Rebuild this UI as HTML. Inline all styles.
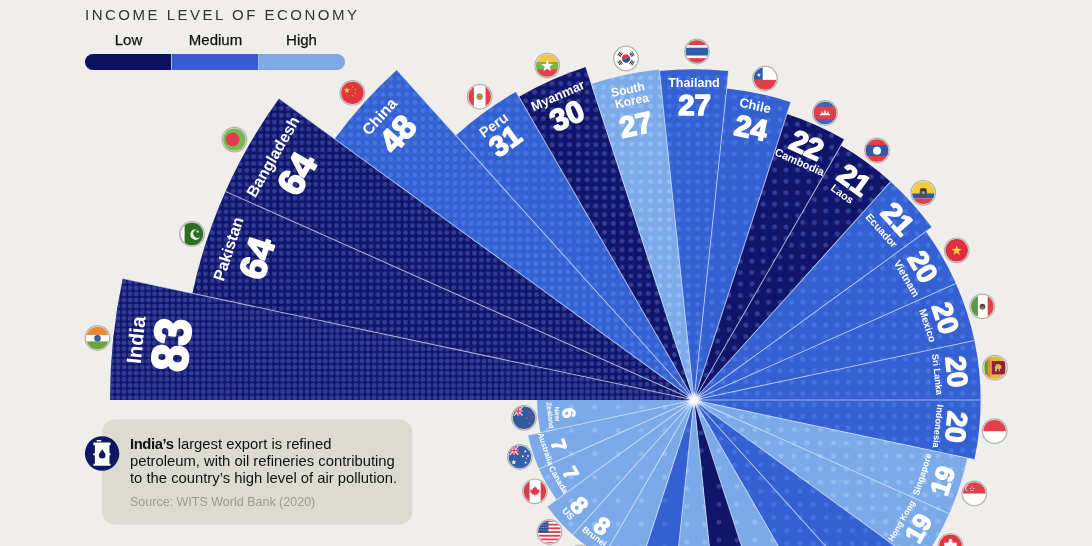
<!DOCTYPE html>
<html lang="en"><head><meta charset="utf-8"><title>Income level of economy</title>
<style>
html,body{margin:0;padding:0}
body{width:1092px;height:546px;overflow:hidden;background:#efeeea;position:relative;font-family:"Liberation Sans",Arial,sans-serif}
.ttl{position:absolute;left:85px;top:6px;font-size:15px;letter-spacing:2.5px;color:#333;white-space:nowrap;line-height:18px}
.lg{position:absolute;top:31px;font-size:15px;color:#111;line-height:18px;width:87px;text-align:center;-webkit-text-stroke:0.25px #111}
.bar{position:absolute;left:85px;top:54px;width:260px;height:16px;border-radius:8px;overflow:hidden;display:flex}
.bar i{display:block;flex:1;height:16px}
.box{position:absolute;left:102px;top:420px;width:309px;height:104px}
.box p{position:absolute;left:28px;top:16px;margin:0;font-size:14.8px;line-height:17px;color:#111;white-space:nowrap;letter-spacing:0}
.box b{letter-spacing:-0.4px}
.box .src{top:74px;color:#9a9a93;font-size:12.5px}
</style></head><body>
<svg width="1092" height="546" viewBox="0 0 1092 546" style="position:absolute;left:0;top:0">
<defs>
<radialGradient id="glow"><stop offset="0" stop-color="#fff" stop-opacity="1"/><stop offset="0.35" stop-color="#fff" stop-opacity="0.9"/><stop offset="1" stop-color="#fff" stop-opacity="0"/></radialGradient>
<clipPath id="fc"><circle r="11.2"/></clipPath>
<clipPath id="wc">
<path d="M694 400L110.02 400A583.98 583.98 0 0 1 122.78 278.58ZM694 400L192.41 293.38A512.8 512.8 0 0 1 225.53 191.43ZM694 400L225.53 191.43A512.8 512.8 0 0 1 279.14 98.58ZM694 400L334.72 138.97A444.1 444.1 0 0 1 396.84 69.97ZM694 400L455.79 135.44A356 356 0 0 1 516 91.69ZM694 400L518.9 96.72A350.2 350.2 0 0 1 585.78 66.94ZM694 400L591.34 84.06A332.2 332.2 0 0 1 659.28 69.62ZM694 400L659.42 71.01A330.8 330.8 0 0 1 728.58 71.01ZM694 400L726.74 88.52A313.2 313.2 0 0 1 790.78 102.13ZM694 400L786.91 114.06A300.66 300.66 0 0 1 844.33 139.62ZM694 400L840.87 145.61A293.74 293.74 0 0 1 890.55 181.71ZM694 400L890.55 181.71A293.74 293.74 0 0 1 931.64 227.34ZM694 400L925.92 231.5A286.66 286.66 0 0 1 955.88 283.4ZM694 400L955.88 283.4A286.66 286.66 0 0 1 974.4 340.4ZM694 400L974.4 340.4A286.66 286.66 0 0 1 980.66 400ZM694 400L980.66 400A286.66 286.66 0 0 1 974.4 459.6ZM694 400L967.3 458.09A279.41 279.41 0 0 1 949.25 513.64ZM694 400L949.25 513.64A279.41 279.41 0 0 1 920.04 564.23ZM694 400L960.98 593.97A330 330 0 0 1 914.81 645.24ZM694 400L914.81 645.24A330 330 0 0 1 859 685.79ZM694 400L859 685.79A330 330 0 0 1 795.98 713.85ZM694 400L795.98 713.85A330 330 0 0 1 728.49 728.19ZM694 400L728.49 728.19A330 330 0 0 1 659.51 728.19ZM694 400L659.51 728.19A330 330 0 0 1 592.02 713.85ZM694 400L592.02 713.85A330 330 0 0 1 529 685.79ZM694 400L603.35 557.01A181.3 181.3 0 0 1 572.69 534.73ZM694 400L572.69 534.73A181.3 181.3 0 0 1 547.32 506.57ZM694 400L556.8 499.68A169.59 169.59 0 0 1 539.07 468.98ZM694 400L539.07 468.98A169.59 169.59 0 0 1 528.11 435.26ZM694 400L540.42 432.64A157.01 157.01 0 0 1 536.99 400Z"/>
</clipPath></defs>
<path d="M694 400L110.02 400A583.98 583.98 0 0 1 122.78 278.58Z" fill="#0f156a"/>
<path d="M694 400L192.41 293.38A512.8 512.8 0 0 1 225.53 191.43Z" fill="#0f156a"/>
<path d="M694 400L225.53 191.43A512.8 512.8 0 0 1 279.14 98.58Z" fill="#0f156a"/>
<path d="M694 400L334.72 138.97A444.1 444.1 0 0 1 396.84 69.97Z" fill="#3560d2"/>
<path d="M694 400L455.79 135.44A356 356 0 0 1 516 91.69Z" fill="#3560d2"/>
<path d="M694 400L518.9 96.72A350.2 350.2 0 0 1 585.78 66.94Z" fill="#0f156a"/>
<path d="M694 400L591.34 84.06A332.2 332.2 0 0 1 659.28 69.62Z" fill="#7caae8"/>
<path d="M694 400L659.42 71.01A330.8 330.8 0 0 1 728.58 71.01Z" fill="#3560d2"/>
<path d="M694 400L726.74 88.52A313.2 313.2 0 0 1 790.78 102.13Z" fill="#3560d2"/>
<path d="M694 400L786.91 114.06A300.66 300.66 0 0 1 844.33 139.62Z" fill="#0f156a"/>
<path d="M694 400L840.87 145.61A293.74 293.74 0 0 1 890.55 181.71Z" fill="#0f156a"/>
<path d="M694 400L890.55 181.71A293.74 293.74 0 0 1 931.64 227.34Z" fill="#3560d2"/>
<path d="M694 400L925.92 231.5A286.66 286.66 0 0 1 955.88 283.4Z" fill="#3560d2"/>
<path d="M694 400L955.88 283.4A286.66 286.66 0 0 1 974.4 340.4Z" fill="#3560d2"/>
<path d="M694 400L974.4 340.4A286.66 286.66 0 0 1 980.66 400Z" fill="#3560d2"/>
<path d="M694 400L980.66 400A286.66 286.66 0 0 1 974.4 459.6Z" fill="#3560d2"/>
<path d="M694 400L967.3 458.09A279.41 279.41 0 0 1 949.25 513.64Z" fill="#7caae8"/>
<path d="M694 400L949.25 513.64A279.41 279.41 0 0 1 920.04 564.23Z" fill="#7caae8"/>
<path d="M694 400L960.98 593.97A330 330 0 0 1 914.81 645.24Z" fill="#3560d2"/>
<path d="M694 400L914.81 645.24A330 330 0 0 1 859 685.79Z" fill="#3560d2"/>
<path d="M694 400L859 685.79A330 330 0 0 1 795.98 713.85Z" fill="#7caae8"/>
<path d="M694 400L795.98 713.85A330 330 0 0 1 728.49 728.19Z" fill="#0f156a"/>
<path d="M694 400L728.49 728.19A330 330 0 0 1 659.51 728.19Z" fill="#7caae8"/>
<path d="M694 400L659.51 728.19A330 330 0 0 1 592.02 713.85Z" fill="#3560d2"/>
<path d="M694 400L592.02 713.85A330 330 0 0 1 529 685.79Z" fill="#7caae8"/>
<path d="M694 400L603.35 557.01A181.3 181.3 0 0 1 572.69 534.73Z" fill="#7caae8"/>
<path d="M694 400L572.69 534.73A181.3 181.3 0 0 1 547.32 506.57Z" fill="#7caae8"/>
<path d="M694 400L556.8 499.68A169.59 169.59 0 0 1 539.07 468.98Z" fill="#7caae8"/>
<path d="M694 400L539.07 468.98A169.59 169.59 0 0 1 528.11 435.26Z" fill="#7caae8"/>
<path d="M694 400L540.42 432.64A157.01 157.01 0 0 1 536.99 400Z" fill="#7caae8"/>
<path d="M694 400L110.02 400A583.98 583.98 0 0 1 122.78 278.58Z" fill="url(#p0)"/>
<path d="M694 400L192.41 293.38A512.8 512.8 0 0 1 225.53 191.43Z" fill="url(#p1)"/>
<path d="M694 400L225.53 191.43A512.8 512.8 0 0 1 279.14 98.58Z" fill="url(#p2)"/>
<path d="M694 400L334.72 138.97A444.1 444.1 0 0 1 396.84 69.97Z" fill="url(#p3)"/>
<path d="M694 400L455.79 135.44A356 356 0 0 1 516 91.69Z" fill="url(#p4)"/>
<path d="M694 400L518.9 96.72A350.2 350.2 0 0 1 585.78 66.94Z" fill="url(#p5)"/>
<path d="M694 400L591.34 84.06A332.2 332.2 0 0 1 659.28 69.62Z" fill="url(#p6)"/>
<path d="M694 400L659.42 71.01A330.8 330.8 0 0 1 728.58 71.01Z" fill="url(#p7)"/>
<path d="M694 400L726.74 88.52A313.2 313.2 0 0 1 790.78 102.13Z" fill="url(#p8)"/>
<path d="M694 400L786.91 114.06A300.66 300.66 0 0 1 844.33 139.62Z" fill="url(#p9)"/>
<path d="M694 400L840.87 145.61A293.74 293.74 0 0 1 890.55 181.71Z" fill="url(#p10)"/>
<path d="M694 400L890.55 181.71A293.74 293.74 0 0 1 931.64 227.34Z" fill="url(#p11)"/>
<path d="M694 400L925.92 231.5A286.66 286.66 0 0 1 955.88 283.4Z" fill="url(#p12)"/>
<path d="M694 400L955.88 283.4A286.66 286.66 0 0 1 974.4 340.4Z" fill="url(#p13)"/>
<path d="M694 400L974.4 340.4A286.66 286.66 0 0 1 980.66 400Z" fill="url(#p14)"/>
<path d="M694 400L980.66 400A286.66 286.66 0 0 1 974.4 459.6Z" fill="url(#p15)"/>
<path d="M694 400L967.3 458.09A279.41 279.41 0 0 1 949.25 513.64Z" fill="url(#p16)"/>
<path d="M694 400L949.25 513.64A279.41 279.41 0 0 1 920.04 564.23Z" fill="url(#p17)"/>
<path d="M694 400L960.98 593.97A330 330 0 0 1 914.81 645.24Z" fill="url(#p18)"/>
<path d="M694 400L914.81 645.24A330 330 0 0 1 859 685.79Z" fill="url(#p19)"/>
<path d="M694 400L859 685.79A330 330 0 0 1 795.98 713.85Z" fill="url(#p20)"/>
<path d="M694 400L795.98 713.85A330 330 0 0 1 728.49 728.19Z" fill="url(#p21)"/>
<path d="M694 400L728.49 728.19A330 330 0 0 1 659.51 728.19Z" fill="url(#p22)"/>
<path d="M694 400L659.51 728.19A330 330 0 0 1 592.02 713.85Z" fill="url(#p23)"/>
<path d="M694 400L592.02 713.85A330 330 0 0 1 529 685.79Z" fill="url(#p24)"/>
<path d="M694 400L603.35 557.01A181.3 181.3 0 0 1 572.69 534.73Z" fill="url(#p25)"/>
<path d="M694 400L572.69 534.73A181.3 181.3 0 0 1 547.32 506.57Z" fill="url(#p26)"/>
<path d="M694 400L556.8 499.68A169.59 169.59 0 0 1 539.07 468.98Z" fill="url(#p27)"/>
<path d="M694 400L539.07 468.98A169.59 169.59 0 0 1 528.11 435.26Z" fill="url(#p28)"/>
<path d="M694 400L540.42 432.64A157.01 157.01 0 0 1 536.99 400Z" fill="url(#p29)"/>
<defs><pattern id="p0" x="200.25" y="339.65" width="6.1" height="6.1" patternUnits="userSpaceOnUse"><circle cx="3.05" cy="3.05" r="2.45" fill="#434da4" fill-opacity="0.7"/></pattern><pattern id="p1" x="381.35" y="180.85" width="6.9" height="6.9" patternUnits="userSpaceOnUse"><circle cx="3.45" cy="3.45" r="2.45" fill="#434da4" fill-opacity="0.7"/></pattern><pattern id="p2" x="381.35" y="180.85" width="6.9" height="6.9" patternUnits="userSpaceOnUse"><circle cx="3.45" cy="3.45" r="2.45" fill="#434da4" fill-opacity="0.7"/></pattern><pattern id="p3" x="378.73" y="154.88" width="8.05" height="8.05" patternUnits="userSpaceOnUse"><circle cx="4.03" cy="4.03" r="2.45" fill="#4b84ea" fill-opacity="0.58"/></pattern><pattern id="p4" x="547.67" y="122.83" width="8.75" height="8.75" patternUnits="userSpaceOnUse"><circle cx="4.38" cy="4.38" r="2.45" fill="#4b84ea" fill-opacity="0.58"/></pattern><pattern id="p5" x="547.67" y="122.83" width="8.75" height="8.75" patternUnits="userSpaceOnUse"><circle cx="4.38" cy="4.38" r="2.45" fill="#434da4" fill-opacity="0.7"/></pattern><pattern id="p6" x="617.38" y="129.68" width="9.45" height="9.45" patternUnits="userSpaceOnUse"><circle cx="4.72" cy="4.72" r="2.45" fill="#9dc5f6" fill-opacity="0.66"/></pattern><pattern id="p7" x="617.38" y="129.68" width="9.45" height="9.45" patternUnits="userSpaceOnUse"><circle cx="4.72" cy="4.72" r="2.45" fill="#4b84ea" fill-opacity="0.58"/></pattern><pattern id="p8" x="785.8" y="205.3" width="11.4" height="11.4" patternUnits="userSpaceOnUse"><circle cx="5.7" cy="5.7" r="2.45" fill="#4b84ea" fill-opacity="0.58"/></pattern><pattern id="p9" x="757.5" y="198.4" width="11.4" height="11.4" patternUnits="userSpaceOnUse"><circle cx="5.7" cy="5.7" r="2.45" fill="#434da4" fill-opacity="0.7"/></pattern><pattern id="p10" x="785.8" y="205.3" width="11.4" height="11.4" patternUnits="userSpaceOnUse"><circle cx="5.7" cy="5.7" r="2.45" fill="#434da4" fill-opacity="0.7"/></pattern><pattern id="p11" x="785.8" y="205.3" width="11.4" height="11.4" patternUnits="userSpaceOnUse"><circle cx="5.7" cy="5.7" r="2.45" fill="#4b84ea" fill-opacity="0.58"/></pattern><pattern id="p12" x="785.8" y="205.3" width="11.4" height="11.4" patternUnits="userSpaceOnUse"><circle cx="5.7" cy="5.7" r="2.45" fill="#4b84ea" fill-opacity="0.58"/></pattern><pattern id="p13" x="785.8" y="205.3" width="11.4" height="11.4" patternUnits="userSpaceOnUse"><circle cx="5.7" cy="5.7" r="2.45" fill="#4b84ea" fill-opacity="0.58"/></pattern><pattern id="p14" x="785.8" y="205.3" width="11.4" height="11.4" patternUnits="userSpaceOnUse"><circle cx="5.7" cy="5.7" r="2.45" fill="#4b84ea" fill-opacity="0.58"/></pattern><pattern id="p15" x="785.8" y="205.3" width="11.4" height="11.4" patternUnits="userSpaceOnUse"><circle cx="5.7" cy="5.7" r="2.45" fill="#4b84ea" fill-opacity="0.58"/></pattern><pattern id="p16" x="800.65" y="436.25" width="13.1" height="13.1" patternUnits="userSpaceOnUse"><circle cx="6.55" cy="6.55" r="2.45" fill="#9dc5f6" fill-opacity="0.66"/></pattern><pattern id="p17" x="800.65" y="436.25" width="13.1" height="13.1" patternUnits="userSpaceOnUse"><circle cx="6.55" cy="6.55" r="2.45" fill="#9dc5f6" fill-opacity="0.66"/></pattern><pattern id="p18" x="741.05" y="445.35" width="13.1" height="13.1" patternUnits="userSpaceOnUse"><circle cx="6.55" cy="6.55" r="2.45" fill="#4b84ea" fill-opacity="0.58"/></pattern><pattern id="p19" x="741.05" y="445.35" width="13.1" height="13.1" patternUnits="userSpaceOnUse"><circle cx="6.55" cy="6.55" r="2.45" fill="#4b84ea" fill-opacity="0.58"/></pattern><pattern id="p20" x="710.05" y="441.75" width="17.9" height="17.9" patternUnits="userSpaceOnUse"><circle cx="8.95" cy="8.95" r="2.45" fill="#9dc5f6" fill-opacity="0.66"/></pattern><pattern id="p21" x="710.05" y="441.75" width="17.9" height="17.9" patternUnits="userSpaceOnUse"><circle cx="8.95" cy="8.95" r="2.45" fill="#434da4" fill-opacity="0.7"/></pattern><pattern id="p22" x="677.95" y="515.55" width="17.9" height="17.9" patternUnits="userSpaceOnUse"><circle cx="8.95" cy="8.95" r="2.45" fill="#9dc5f6" fill-opacity="0.66"/></pattern><pattern id="p23" x="582.9" y="395.3" width="23.4" height="23.4" patternUnits="userSpaceOnUse"><circle cx="11.7" cy="11.7" r="2.45" fill="#4b84ea" fill-opacity="0.58"/></pattern><pattern id="p24" x="582.9" y="395.3" width="23.4" height="23.4" patternUnits="userSpaceOnUse"><circle cx="11.7" cy="11.7" r="2.45" fill="#9dc5f6" fill-opacity="0.66"/></pattern><pattern id="p25" x="582.9" y="395.3" width="23.4" height="23.4" patternUnits="userSpaceOnUse"><circle cx="11.7" cy="11.7" r="2.45" fill="#9dc5f6" fill-opacity="0.66"/></pattern><pattern id="p26" x="582.9" y="395.3" width="23.4" height="23.4" patternUnits="userSpaceOnUse"><circle cx="11.7" cy="11.7" r="2.45" fill="#9dc5f6" fill-opacity="0.66"/></pattern><pattern id="p27" x="582.9" y="395.3" width="23.4" height="23.4" patternUnits="userSpaceOnUse"><circle cx="11.7" cy="11.7" r="2.45" fill="#9dc5f6" fill-opacity="0.66"/></pattern><pattern id="p28" x="582.9" y="395.3" width="23.4" height="23.4" patternUnits="userSpaceOnUse"><circle cx="11.7" cy="11.7" r="2.45" fill="#9dc5f6" fill-opacity="0.66"/></pattern><pattern id="p29" x="582.9" y="395.3" width="23.4" height="23.4" patternUnits="userSpaceOnUse"><circle cx="11.7" cy="11.7" r="2.45" fill="#9dc5f6" fill-opacity="0.66"/></pattern></defs>
<path d="M694 400L122.78 278.58M694 400L225.53 191.43M694 400L279.14 98.58M694 400L396.84 69.97M694 400L516 91.69M694 400L585.78 66.94M694 400L659.28 69.62M694 400L728.58 71.01M694 400L790.78 102.13M694 400L844.33 139.62M694 400L890.55 181.71M694 400L931.64 227.34M694 400L955.88 283.4M694 400L974.4 340.4M694 400L980.66 400M694 400L974.4 459.6M694 400L949.25 513.64M694 400L960.98 593.97M694 400L914.81 645.24M694 400L859 685.79M694 400L795.98 713.85M694 400L728.49 728.19M694 400L659.51 728.19M694 400L592.02 713.85M694 400L529 685.79M694 400L572.69 534.73M694 400L547.32 506.57M694 400L539.07 468.98M694 400L528.11 435.26" stroke="#e4f1ff" stroke-opacity="0.6" stroke-width="1.05" fill="none"/>
<circle cx="694" cy="400" r="8.5" fill="url(#glow)"/>
<g fill="#fff" text-anchor="middle" font-family="&quot;Liberation Sans&quot;, Arial, sans-serif">
<text transform="translate(170.8 344.6) rotate(-84) scale(0.94 1)" font-size="50.5" font-weight="700" stroke="#fff" stroke-width="2.53" stroke-linejoin="round" y="18.08">83</text>
<text transform="translate(137 340) rotate(-84)" font-size="20.46" font-weight="700" y="6.14">India</text>
<text transform="translate(256.5 258) rotate(-72)" font-size="37" font-weight="700" stroke="#fff" stroke-width="1.85" stroke-linejoin="round" y="13.25">64</text>
<text transform="translate(229 249) rotate(-72)" font-size="16.09" font-weight="700" y="4.83">Pakistan</text>
<text transform="translate(296.5 173.5) rotate(-60)" font-size="37" font-weight="700" stroke="#fff" stroke-width="1.85" stroke-linejoin="round" y="13.25">64</text>
<text transform="translate(273.5 157) rotate(-60)" font-size="15.9" font-weight="700" y="4.77">Bangladesh</text>
<text transform="translate(397.5 133.6) rotate(-48)" font-size="33" font-weight="700" stroke="#fff" stroke-width="1.65" stroke-linejoin="round" y="11.81">48</text>
<text transform="translate(380 117) rotate(-48)" font-size="15.62" font-weight="700" y="4.69">China</text>
<text transform="translate(505.1 140.7) rotate(-36)" font-size="28.5" font-weight="700" stroke="#fff" stroke-width="1.43" stroke-linejoin="round" y="10.2">31</text>
<text transform="translate(494 125.4) rotate(-36)" font-size="14.32" font-weight="700" y="4.3">Peru</text>
<text transform="translate(566.8 115.3) rotate(-24)" font-size="30.5" font-weight="700" stroke="#fff" stroke-width="1.53" stroke-linejoin="round" y="10.92">30</text>
<text transform="translate(558 96) rotate(-24)" font-size="13.02" font-weight="700" y="3.91">Myanmar</text>
<text transform="translate(635.8 124.3) rotate(-12)" font-size="29.5" font-weight="700" stroke="#fff" stroke-width="1.48" stroke-linejoin="round" y="10.56">27</text>
<text transform="translate(628 90) rotate(-12)" font-size="12.09" font-weight="700" y="3.63">South</text>
<text transform="translate(632 101.3) rotate(-12)" font-size="12.09" font-weight="700" y="3.63">Korea</text>
<text transform="translate(694.6 104.6) rotate(0)" font-size="29.5" font-weight="700" stroke="#fff" stroke-width="1.48" stroke-linejoin="round" y="10.56">27</text>
<text transform="translate(694 83) rotate(0)" font-size="12.56" font-weight="700" y="3.77">Thailand</text>
<text transform="translate(751.2 127.5) rotate(12)" font-size="29.5" font-weight="700" stroke="#fff" stroke-width="1.48" stroke-linejoin="round" y="10.56">24</text>
<text transform="translate(755 106) rotate(12)" font-size="13.02" font-weight="700" y="3.91">Chile</text>
<text transform="translate(807 144.6) rotate(24)" font-size="30" font-weight="700" stroke="#fff" stroke-width="1.5" stroke-linejoin="round" y="10.74">22</text>
<text transform="translate(799.5 162.5) rotate(24)" font-size="10.97" font-weight="700" y="3.29">Cambodia</text>
<text transform="translate(854.3 179.5) rotate(36)" font-size="29" font-weight="700" stroke="#fff" stroke-width="1.45" stroke-linejoin="round" y="10.38">21</text>
<text transform="translate(842 194.3) rotate(36)" font-size="10.79" font-weight="700" y="3.24">Laos</text>
<text transform="translate(898 218.5) rotate(48)" font-size="29" font-weight="700" stroke="#fff" stroke-width="1.45" stroke-linejoin="round" y="10.38">21</text>
<text transform="translate(881.2 230.8) rotate(48)" font-size="10.42" font-weight="700" y="3.12">Ecuador</text>
<text transform="translate(923.3 266.4) rotate(60)" font-size="28" font-weight="700" stroke="#fff" stroke-width="1.4" stroke-linejoin="round" y="10.02">20</text>
<text transform="translate(906.3 278.7) rotate(60)" font-size="10.51" font-weight="700" y="3.15">Vietnam</text>
<text transform="translate(945.9 318) rotate(72)" font-size="28" font-weight="700" stroke="#fff" stroke-width="1.4" stroke-linejoin="round" y="10.02">20</text>
<text transform="translate(927.2 325.6) rotate(72)" font-size="10.14" font-weight="700" y="3.04">Mexico</text>
<text transform="translate(957 371.8) rotate(84)" font-size="28" font-weight="700" stroke="#fff" stroke-width="1.4" stroke-linejoin="round" y="10.02">20</text>
<text transform="translate(937 374.4) rotate(84)" font-size="9.16" font-weight="700" y="2.75">Sri Lanka</text>
<text transform="translate(956.7 427) rotate(96)" font-size="28" font-weight="700" stroke="#fff" stroke-width="1.4" stroke-linejoin="round" y="10.02">20</text>
<text transform="translate(937.7 426.2) rotate(96)" font-size="9.3" font-weight="700" y="2.79">Indonesia</text>
<text transform="translate(942.4 480.6) rotate(-72)" font-size="26" font-weight="700" stroke="#fff" stroke-width="1.3" stroke-linejoin="round" y="9.31">19</text>
<text transform="translate(922.6 474.3) rotate(-72)" font-size="8.93" font-weight="700" y="2.68">Singapore</text>
<text transform="translate(918.2 527.9) rotate(-60)" font-size="25.5" font-weight="700" stroke="#fff" stroke-width="1.28" stroke-linejoin="round" y="9.13">19</text>
<text transform="translate(901.8 521) rotate(-60)" font-size="8.43" font-weight="700" y="2.53">Hong Kong</text>
<text transform="translate(602.2 525.7) rotate(36)" font-size="24" font-weight="700" stroke="#fff" stroke-width="1.2" stroke-linejoin="round" y="8.59">8</text>
<text transform="translate(594.3 536.9) rotate(36)" font-size="8.84" font-weight="700" y="2.65">Brunei</text>
<text transform="translate(579.7 505.3) rotate(48)" font-size="24" font-weight="700" stroke="#fff" stroke-width="1.2" stroke-linejoin="round" y="8.59">8</text>
<text transform="translate(567.9 514) rotate(48)" font-size="9.3" font-weight="700" y="2.79">US</text>
<text transform="translate(570.9 473) rotate(60)" font-size="20" font-weight="700" stroke="#fff" stroke-width="1" stroke-linejoin="round" y="7.16">7</text>
<text transform="translate(558.2 479.8) rotate(60)" font-size="8.37" font-weight="700" y="2.51">Canada</text>
<text transform="translate(559 445) rotate(72)" font-size="20" font-weight="700" stroke="#fff" stroke-width="1" stroke-linejoin="round" y="7.16">7</text>
<text transform="translate(545.3 449) rotate(72)" font-size="7.91" font-weight="700" y="2.37">Australia</text>
<text transform="translate(569.2 413) rotate(84)" font-size="18" font-weight="700" stroke="#fff" stroke-width="0.9" stroke-linejoin="round" y="6.44">6</text>
<text transform="translate(557 414) rotate(84)" font-size="6.98" font-weight="700" y="2.09">New</text>
<text transform="translate(550 415.2) rotate(84)" font-size="6.98" font-weight="700" y="2.09">Zealand</text>
</g>
<!--FLAGS-->
<g transform="translate(97.5 338)"><circle r="12.3" fill="#ecebe7" stroke="#b3b2ae" stroke-width="1.2"/><g clip-path="url(#fc)"><rect x="-12" y="-12" width="24" height="9.2" fill="#e58c3a"/><rect x="-12" y="-2.8" width="24" height="6.2" fill="#fff"/><rect x="-12" y="3.4" width="24" height="9" fill="#6ea63c"/><circle cx="0" cy="0.2" r="3.2" fill="#2f56a6"/><circle cx="0" cy="0.2" r="1.2" fill="#4a6fba"/></g></g>
<g transform="translate(192 234)"><circle r="12.3" fill="#ecebe7" stroke="#b3b2ae" stroke-width="1.2"/><g clip-path="url(#fc)"><rect x="-12" y="-12" width="24" height="24" fill="#2e6d24"/><rect x="-12" y="-12" width="4.6" height="24" fill="#fff"/><path d="M4.2 -4.6A5.2 5.2 0 1 0 8.1 3.2A4.4 4.4 0 1 1 4.2 -4.6Z" fill="#eaf6e4"/><polygon points="6.69,-3.7 6.26,-2.56 7.18,-1.76 5.96,-1.82 5.48,-0.7 5.16,-1.88 3.95,-1.99 4.97,-2.65 4.7,-3.84 5.65,-3.08" fill="#eaf6e4"/></g></g>
<g transform="translate(234.4 139.6)"><circle r="12.3" fill="#ecebe7" stroke="#b3b2ae" stroke-width="1.2"/><g clip-path="url(#fc)"><rect x="-12" y="-12" width="24" height="24" fill="#7cb852"/><circle cx="-1.8" cy="-0.2" r="6.9" fill="#e23c52"/></g></g>
<g transform="translate(352.4 92.9)"><circle r="12.3" fill="#ecebe7" stroke="#b3b2ae" stroke-width="1.2"/><g clip-path="url(#fc)"><rect x="-12" y="-12" width="24" height="24" fill="#e1353f"/><polygon points="-5.5,-5.8 -4.72,-3.57 -2.36,-3.52 -4.24,-2.09 -3.56,0.17 -5.5,-1.18 -7.44,0.17 -6.76,-2.09 -8.64,-3.52 -6.28,-3.57" fill="#f9c63c"/><polygon points="0.3,-7 0.58,-6.19 1.44,-6.17 0.76,-5.65 1.01,-4.83 0.3,-5.32 -0.41,-4.83 -0.16,-5.65 -0.84,-6.17 0.02,-6.19" fill="#f3a93c"/><polygon points="2.8,-4.5 3.08,-3.69 3.94,-3.67 3.26,-3.15 3.51,-2.33 2.8,-2.82 2.09,-2.33 2.34,-3.15 1.66,-3.67 2.52,-3.69" fill="#f3a93c"/><polygon points="2.8,-0.9 3.08,-0.09 3.94,-0.07 3.26,0.45 3.51,1.27 2.8,0.78 2.09,1.27 2.34,0.45 1.66,-0.07 2.52,-0.09" fill="#f3a93c"/><polygon points="0.3,1.4 0.58,2.21 1.44,2.23 0.76,2.75 1.01,3.57 0.3,3.08 -0.41,3.57 -0.16,2.75 -0.84,2.23 0.02,2.21" fill="#f3a93c"/></g></g>
<g transform="translate(479.7 96.7)"><circle r="12.3" fill="#ecebe7" stroke="#b3b2ae" stroke-width="1.2"/><g clip-path="url(#fc)"><rect x="-12" y="-12" width="24" height="24" fill="#fff"/><rect x="-12" y="-12" width="6.2" height="24" fill="#e0404c"/><rect x="5.8" y="-12" width="6.2" height="24" fill="#e0404c"/><circle cx="0" cy="0" r="3.1" fill="#6f9a3a"/><circle cx="0" cy="0.2" r="1.8" fill="#e3b23a"/><rect x="-1.2" y="-0.6" width="2.4" height="1.4" fill="#c4473a"/></g></g>
<g transform="translate(547.2 65.6)"><circle r="12.3" fill="#ecebe7" stroke="#b3b2ae" stroke-width="1.2"/><g clip-path="url(#fc)"><rect x="-12" y="-12" width="24" height="8.3" fill="#f6c63a"/><rect x="-12" y="-3.7" width="24" height="7.3" fill="#7db342"/><rect x="-12" y="3.6" width="24" height="8.4" fill="#e4404c"/><polygon points="0,-6 1.5,-1.67 6.09,-1.58 2.43,1.19 3.76,5.58 0,2.96 -3.76,5.58 -2.43,1.19 -6.09,-1.58 -1.5,-1.67" fill="#fff"/></g></g>
<g transform="translate(626 58.5)"><circle r="12.3" fill="#ecebe7" stroke="#b3b2ae" stroke-width="1.2"/><g clip-path="url(#fc)"><rect x="-12" y="-12" width="24" height="24" fill="#fff"/><path d="M-4.2 0A4.2 4.2 0 0 1 4.2 0Z" fill="#d8354a" transform="rotate(-30)"/><path d="M-4.2 0A4.2 4.2 0 0 0 4.2 0Z" fill="#2d4f9e" transform="rotate(-30)"/><g transform="rotate(35)"><path d="M-8.6 -2.2V2.2M-7.2 -2.2V2.2M-5.9 -2.2V2.2" stroke="#222" stroke-width="0.9"/></g><g transform="rotate(145)"><path d="M-8.6 -2.2V2.2M-7.2 -2.2V2.2M-5.9 -2.2V2.2" stroke="#222" stroke-width="0.9"/></g><g transform="rotate(215)"><path d="M-8.6 -2.2V2.2M-7.2 -2.2V2.2M-5.9 -2.2V2.2" stroke="#222" stroke-width="0.9"/></g><g transform="rotate(325)"><path d="M-8.6 -2.2V2.2M-7.2 -2.2V2.2M-5.9 -2.2V2.2" stroke="#222" stroke-width="0.9"/></g></g></g>
<g transform="translate(697 51.5)"><circle r="12.3" fill="#ecebe7" stroke="#b3b2ae" stroke-width="1.2"/><g clip-path="url(#fc)"><rect x="-12" y="-12" width="24" height="24" fill="#e0404c"/><rect x="-12" y="-6.4" width="24" height="13" fill="#fff"/><rect x="-12" y="-3.8" width="24" height="7.8" fill="#2f5ea8"/></g></g>
<g transform="translate(765 78.5)"><circle r="12.3" fill="#ecebe7" stroke="#b3b2ae" stroke-width="1.2"/><g clip-path="url(#fc)"><rect x="-12" y="-12" width="24" height="13.4" fill="#fff"/><rect x="-12" y="1.4" width="24" height="11" fill="#e0404c"/><rect x="-12" y="-12" width="9.7" height="13.4" fill="#2d5fa9"/><polygon points="-6.1,-5.8 -5.56,-4.24 -3.91,-4.21 -5.23,-3.22 -4.75,-1.64 -6.1,-2.58 -7.45,-1.64 -6.97,-3.22 -8.29,-4.21 -6.64,-4.24" fill="#fff"/></g></g>
<g transform="translate(825 113)"><circle r="12.3" fill="#ecebe7" stroke="#b3b2ae" stroke-width="1.2"/><g clip-path="url(#fc)"><rect x="-12" y="-12" width="24" height="24" fill="#3a66b8"/><rect x="-12" y="-6.5" width="24" height="12.8" fill="#e0404c"/><path d="M-5 2.2H5V1H3.6V-0.6L3 -2.2L2.4 -0.6V0.2H0.8V-1.4L0 -3.4L-0.8 -1.4V0.2H-2.4V-0.6L-3 -2.2L-3.6 -0.6V1H-5Z" fill="#fff"/></g></g>
<g transform="translate(877 150.5)"><circle r="12.3" fill="#ecebe7" stroke="#b3b2ae" stroke-width="1.2"/><g clip-path="url(#fc)"><rect x="-12" y="-12" width="24" height="24" fill="#e0404c"/><rect x="-12" y="-5.5" width="24" height="11" fill="#2f5aa8"/><circle cx="0" cy="0.2" r="4" fill="#fff"/></g></g>
<g transform="translate(923.3 192.8)"><circle r="12.3" fill="#ecebe7" stroke="#b3b2ae" stroke-width="1.2"/><g clip-path="url(#fc)"><rect x="-12" y="-12" width="24" height="12.6" fill="#f5cb3a"/><rect x="-12" y="0.6" width="24" height="5" fill="#2f5aa8"/><rect x="-12" y="5.6" width="24" height="7" fill="#e0404c"/><ellipse cx="0" cy="-0.6" rx="3.6" ry="4.2" fill="#5a4a2e"/><circle cx="0" cy="-0.2" r="1.7" fill="#7aa0c8"/><path d="M-3.4 -4.6L0 -3L3.4 -4.6L2 -2.2H-2Z" fill="#2a2a2a"/></g></g>
<g transform="translate(956.7 250.3)"><circle r="12.3" fill="#ecebe7" stroke="#b3b2ae" stroke-width="1.2"/><g clip-path="url(#fc)"><rect x="-12" y="-12" width="24" height="24" fill="#df2f3e"/><polygon points="0,-5.1 1.27,-1.45 5.14,-1.37 2.05,0.97 3.17,4.67 0,2.46 -3.17,4.67 -2.05,0.97 -5.14,-1.37 -1.27,-1.45" fill="#f9d23c"/></g></g>
<g transform="translate(982.3 306.4)"><circle r="12.3" fill="#ecebe7" stroke="#b3b2ae" stroke-width="1.2"/><g clip-path="url(#fc)"><rect x="-12" y="-12" width="24" height="24" fill="#fff"/><rect x="-12" y="-12" width="7.6" height="24" fill="#5a9a46"/><rect x="5.4" y="-12" width="7" height="24" fill="#e0404c"/><circle cx="0.2" cy="0.2" r="2.8" fill="#5b4632"/><circle cx="0.2" cy="1.4" r="1.5" fill="#7b8a4a"/></g></g>
<g transform="translate(995 367.7)"><circle r="12.3" fill="#ecebe7" stroke="#b3b2ae" stroke-width="1.2"/><g clip-path="url(#fc)"><rect x="-12" y="-12" width="24" height="24" fill="#e8b73a"/><rect x="-10.2" y="-12" width="3.1" height="24" fill="#5f9a44"/><rect x="-7.1" y="-12" width="2.8" height="24" fill="#e88a2e"/><rect x="-3.3" y="-6.7" width="13.3" height="13.4" fill="#8a2150"/><path d="M0 3.6V-1.2L1.4 -3.4H4.6L6.4 -1.6V1H5V3.6H3.8V1.2H2V3.6Z" fill="#e8b73a"/></g></g>
<g transform="translate(994.6 431.2)"><circle r="12.3" fill="#ecebe7" stroke="#b3b2ae" stroke-width="1.2"/><g clip-path="url(#fc)"><rect x="-12" y="-12" width="24" height="12.2" fill="#e0404c"/><rect x="-12" y="0.2" width="24" height="12" fill="#fff"/></g></g>
<g transform="translate(974.3 493.5)"><circle r="12.3" fill="#ecebe7" stroke="#b3b2ae" stroke-width="1.2"/><g clip-path="url(#fc)"><rect x="-12" y="-12" width="24" height="12.2" fill="#e0404c"/><rect x="-12" y="0.2" width="24" height="12" fill="#fff"/><path d="M-4.6 -8.6A3.6 3.6 0 1 0 -4.6 -1.6A3 3 0 1 1 -4.6 -8.6Z" fill="#fff"/><polygon points="-2.2,-7.7 -1.99,-7.09 -1.34,-7.08 -1.86,-6.69 -1.67,-6.07 -2.2,-6.44 -2.73,-6.07 -2.54,-6.69 -3.06,-7.08 -2.41,-7.09" fill="#fff"/><polygon points="-0.6,-6.1 -0.39,-5.49 0.26,-5.48 -0.26,-5.09 -0.07,-4.47 -0.6,-4.84 -1.13,-4.47 -0.94,-5.09 -1.46,-5.48 -0.81,-5.49" fill="#fff"/><polygon points="-1.4,-4.1 -1.19,-3.49 -0.54,-3.48 -1.06,-3.09 -0.87,-2.47 -1.4,-2.84 -1.93,-2.47 -1.74,-3.09 -2.26,-3.48 -1.61,-3.49" fill="#fff"/><polygon points="-3.2,-4.1 -2.99,-3.49 -2.34,-3.48 -2.86,-3.09 -2.67,-2.47 -3.2,-2.84 -3.73,-2.47 -3.54,-3.09 -4.06,-3.48 -3.41,-3.49" fill="#fff"/><polygon points="-3.9,-6.1 -3.69,-5.49 -3.04,-5.48 -3.56,-5.09 -3.37,-4.47 -3.9,-4.84 -4.43,-4.47 -4.24,-5.09 -4.76,-5.48 -4.11,-5.49" fill="#fff"/></g></g>
<g transform="translate(950.5 545.8)"><circle r="12.3" fill="#ecebe7" stroke="#b3b2ae" stroke-width="1.2"/><g clip-path="url(#fc)"><rect x="-12" y="-12" width="24" height="24" fill="#e0343f"/><ellipse cx="0" cy="-3.6" rx="2" ry="3.4" fill="#fff" transform="rotate(0)"/><ellipse cx="0" cy="-3.6" rx="2" ry="3.4" fill="#fff" transform="rotate(72)"/><ellipse cx="0" cy="-3.6" rx="2" ry="3.4" fill="#fff" transform="rotate(144)"/><ellipse cx="0" cy="-3.6" rx="2" ry="3.4" fill="#fff" transform="rotate(216)"/><ellipse cx="0" cy="-3.6" rx="2" ry="3.4" fill="#fff" transform="rotate(288)"/></g></g>
<g transform="translate(579.5 557.3)"><circle r="12.3" fill="#ecebe7" stroke="#b3b2ae" stroke-width="1.2"/><g clip-path="url(#fc)"><rect x="-12" y="-12" width="24" height="24" fill="#f2d43a"/></g></g>
<g transform="translate(549.5 532)"><circle r="12.3" fill="#ecebe7" stroke="#b3b2ae" stroke-width="1.2"/><g clip-path="url(#fc)"><rect x="-12" y="-12" width="24" height="24" fill="#fff"/><rect x="-12" y="-12" width="24" height="1.85" fill="#dd4050"/><rect x="-12" y="-8.3" width="24" height="1.85" fill="#dd4050"/><rect x="-12" y="-4.6" width="24" height="1.85" fill="#dd4050"/><rect x="-12" y="-0.9" width="24" height="1.85" fill="#dd4050"/><rect x="-12" y="2.8" width="24" height="1.85" fill="#dd4050"/><rect x="-12" y="6.5" width="24" height="1.85" fill="#dd4050"/><rect x="-12" y="10.2" width="24" height="1.85" fill="#dd4050"/><rect x="-12" y="-12" width="11" height="12.9" fill="#3a4f9a"/><path d="M-10 -9.5H-2M-10 -7H-2M-10 -4.5H-2M-10 -2H-2" stroke="#c8d0ea" stroke-width="0.7" stroke-dasharray="0.8 1"/></g></g>
<g transform="translate(534.9 491.3)"><circle r="12.3" fill="#ecebe7" stroke="#b3b2ae" stroke-width="1.2"/><g clip-path="url(#fc)"><rect x="-12" y="-12" width="24" height="24" fill="#fff"/><rect x="-12" y="-12" width="6.6" height="24" fill="#dd3a48"/><rect x="5.8" y="-12" width="6.2" height="24" fill="#dd3a48"/><path d="M0 -5.2L1 -3.4L2.2 -3.9L1.8 -1.2L3.2 -2.4L3.5 -1.5L4.9 -1.7L4.2 0.3L4.9 0.8L2.2 2.6L2.5 3.6L0.3 3.3V5.4H-0.3V3.3L-2.5 3.6L-2.2 2.6L-4.9 0.8L-4.2 0.3L-4.9 -1.7L-3.5 -1.5L-3.2 -2.4L-1.8 -1.2L-2.2 -3.9L-1 -3.4Z" fill="#dd3a48"/></g></g>
<g transform="translate(519.8 457)"><circle r="12.3" fill="#ecebe7" stroke="#b3b2ae" stroke-width="1.2"/><g clip-path="url(#fc)"><rect x="-12" y="-12" width="24" height="24" fill="#3560a8"/><g transform="translate(-1.5 -2.3) scale(0.72)"><rect x="-12" y="-12" width="12" height="12" fill="#2a3f8f"/><path d="M-12 -12L0 0M0 -12L-12 0" stroke="#fff" stroke-width="2.2"/><path d="M-12 -12L0 0M0 -12L-12 0" stroke="#d8354a" stroke-width="0.9"/><path d="M-6 -12V0M-12 -6H0" stroke="#fff" stroke-width="3.2"/><path d="M-6 -12V0M-12 -6H0" stroke="#d8354a" stroke-width="1.7"/></g><polygon points="-6,2.8 -5.29,4.23 -3.72,4.46 -4.86,5.57 -4.59,7.14 -6,6.4 -7.41,7.14 -7.14,5.57 -8.28,4.46 -6.71,4.23" fill="#fff"/><polygon points="5.6,-6.9 5.98,-6.13 6.84,-6 6.22,-5.4 6.36,-4.55 5.6,-4.95 4.84,-4.55 4.98,-5.4 4.36,-6 5.22,-6.13" fill="#fff"/><polygon points="8.2,-2.3 8.58,-1.53 9.44,-1.4 8.82,-0.8 8.96,0.05 8.2,-0.35 7.44,0.05 7.58,-0.8 6.96,-1.4 7.82,-1.53" fill="#fff"/><polygon points="3,-1.9 3.38,-1.13 4.24,-1 3.62,-0.4 3.76,0.45 3,0.05 2.24,0.45 2.38,-0.4 1.76,-1 2.62,-1.13" fill="#fff"/><polygon points="5.8,4.3 6.18,5.07 7.04,5.2 6.42,5.8 6.56,6.65 5.8,6.25 5.04,6.65 5.18,5.8 4.56,5.2 5.42,5.07" fill="#fff"/><polygon points="6.8,0.8 7.04,1.28 7.56,1.35 7.18,1.72 7.27,2.25 6.8,2 6.33,2.25 6.42,1.72 6.04,1.35 6.56,1.28" fill="#fff"/></g></g>
<g transform="translate(524 417.8)"><circle r="12.3" fill="#ecebe7" stroke="#b3b2ae" stroke-width="1.2"/><g clip-path="url(#fc)"><rect x="-12" y="-12" width="24" height="24" fill="#2f5aa0"/><g transform="translate(-1.5 -2.3) scale(0.72)"><rect x="-12" y="-12" width="12" height="12" fill="#2a3f8f"/><path d="M-12 -12L0 0M0 -12L-12 0" stroke="#fff" stroke-width="2.2"/><path d="M-12 -12L0 0M0 -12L-12 0" stroke="#d8354a" stroke-width="0.9"/><path d="M-6 -12V0M-12 -6H0" stroke="#fff" stroke-width="3.2"/><path d="M-6 -12V0M-12 -6H0" stroke="#d8354a" stroke-width="1.7"/></g><polygon points="5.6,-6.9 5.95,-5.89 7.03,-5.86 6.17,-5.21 6.48,-4.19 5.6,-4.8 4.72,-4.19 5.03,-5.21 4.17,-5.86 5.25,-5.89" fill="#e04a5a"/><polygon points="8.4,-2.2 8.73,-1.25 9.73,-1.23 8.93,-0.63 9.22,0.33 8.4,-0.24 7.58,0.33 7.87,-0.63 7.07,-1.23 8.07,-1.25" fill="#e04a5a"/><polygon points="3.2,-1.2 3.53,-0.25 4.53,-0.23 3.73,0.37 4.02,1.33 3.2,0.76 2.38,1.33 2.67,0.37 1.87,-0.23 2.87,-0.25" fill="#e04a5a"/><polygon points="5.8,4.2 6.18,5.28 7.32,5.31 6.41,6 6.74,7.09 5.8,6.44 4.86,7.09 5.19,6 4.28,5.31 5.42,5.28" fill="#e04a5a"/></g></g>
<rect x="102" y="419.5" width="310.5" height="105" rx="13" fill="#dcdbd0"/>
<g transform="translate(102.1 453.5)"><circle r="17.2" fill="#0f1663"/><path d="M-5.4 -13.5h4.5v1.4h-4.5zM-8.7 -10.9h17.1v2.6h-17.1zM-7.2 -8.3h14.5v8h-14.5zM-8.7 -0.3h17.1v2.1h-17.1zM-7.2 1.8h14.5v8.4h-14.5zM-8.7 10.2h17.1v2.1h-17.1z" fill="#fff"/><path d="M0.1 -4.2C1.6 -1.8 3.4 -0.2 3.4 1.8A3.3 3.3 0 0 1 -3.2 1.8C-3.2 -0.2 -1.4 -1.8 0.1 -4.2Z" fill="#0f1663"/></g>
</svg>
<div class="ttl">INCOME LEVEL OF ECONOMY</div>
<div class="lg" style="left:85px">Low</div><div class="lg" style="left:172px">Medium</div><div class="lg" style="left:258px">High</div>
<div class="bar"><i style="background:#0d1260"></i><i style="background:#3b5bd0;border-left:1px solid #9dbcf0;border-right:1px solid #9dbcf0"></i><i style="background:#7fa8e6"></i></div>
<div class="box"><p><b>India&rsquo;s</b> largest export is refined<br>petroleum, with oil refineries contributing<br>to the country&rsquo;s high level of air pollution.</p><p class="src">Source: WITS World Bank (2020)</p></div>
</body></html>
